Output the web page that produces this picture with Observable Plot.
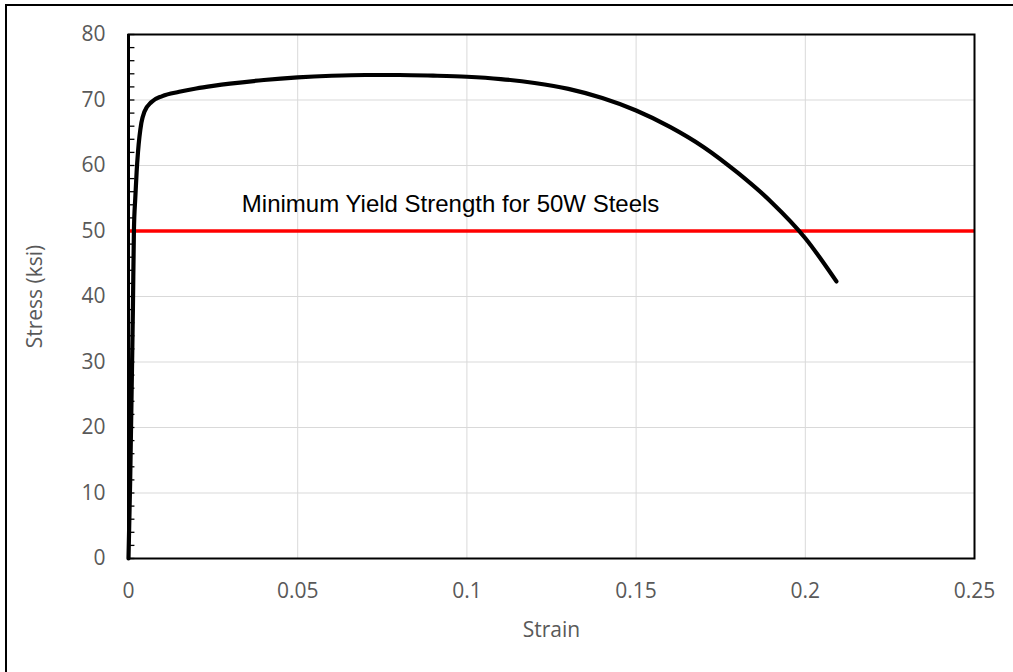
<!DOCTYPE html>
<html>
<head>
<meta charset="utf-8">
<script src="https://cdn.jsdelivr.net/npm/d3@7"></script>
<script src="https://cdn.jsdelivr.net/npm/@observablehq/plot@0.6"></script>
<style>
  html, body { margin: 0; padding: 0; background: #fff; overflow: hidden; }
  #wrap { position: relative; width: 1013px; height: 672px; overflow: hidden; }
  #border { position: absolute; left: 5px; top: 4px; width: 1100px; height: 800px; border: 2px solid #000; box-sizing: border-box; pointer-events: none; }
  #chart { position: absolute; left: 0; top: 0; }
</style>
</head>
<body>
<div id="wrap"><div id="chart"></div><div id="border"></div></div>
<script>
// Stress-strain curve
const strain = [0, 0.0005, 0.001, 0.0013, 0.0016, 0.002, 0.0024, 0.0028, 0.0038, 0.0047, 0.0068, 0.01, 0.015, 0.02, 0.025, 0.03, 0.04, 0.05, 0.06, 0.07, 0.08, 0.09, 0.1, 0.11, 0.12, 0.13, 0.14, 0.15, 0.16, 0.17, 0.18, 0.19, 0.2, 0.2092];
const stress = [0, 12, 28, 38, 50, 55, 59, 62, 66.5, 68.2, 69.7, 70.6, 71.25, 71.75, 72.15, 72.5, 73.05, 73.45, 73.7, 73.82, 73.82, 73.72, 73.55, 73.2, 72.6, 71.7, 70.3, 68.4, 65.9, 62.8, 58.9, 54.4, 48.9, 42.3];

const yieldStrength = [50];
const annotationText = ["Minimum Yield Strength for 50W Steels"];
const annotationX = [0.0335];
const annotationY = [54.1];

const xTicks = [0, 0.05, 0.1, 0.15, 0.2, 0.25];
const xTickLabels = ["0", "0.05", "0.1", "0.15", "0.2", "0.25"];
const yTicks = [0, 10, 20, 30, 40, 50, 60, 70, 80];
const yMinorTicks = d3.range(0, 81, 2);
const xGrid = [0.05, 0.1, 0.15, 0.2];
const yGrid = [10, 20, 30, 40, 50, 60, 70];

const xLabel = "Strain";
const yLabel = "Stress (ksi)";

const curve = strain.map((s, i) => ({strain: s, stress: stress[i]}));
const annotation = annotationText.map((t, i) => ({text: t, x: annotationX[i], y: annotationY[i]}));

const labelFont = "'Open Sans', sans-serif";
const grey = "#595959";

const chart = Plot.plot({
  width: 1013,
  height: 672,
  marginLeft: 128,
  marginRight: 39,
  marginTop: 34,
  marginBottom: 114,
  style: {fontFamily: labelFont, background: "transparent", overflow: "visible"},
  x: {domain: [0, 0.25]},
  y: {domain: [0, 80]},
  marks: [
    Plot.ruleX(xGrid, {stroke: "#d9d9d9", strokeWidth: 1}),
    Plot.ruleY(yGrid, {stroke: "#d9d9d9", strokeWidth: 1}),
    Plot.ruleY(yMinorTicks, {x1: 0, x2: 0.0019, stroke: "#000", strokeWidth: 1.3}),
    Plot.ruleY(yieldStrength, {stroke: "#ff0000", strokeWidth: 3.5}),
    Plot.line(curve, {x: "strain", y: "stress", stroke: "#000", strokeWidth: 4.2, curve: "monotone-x", strokeLinecap: "round", strokeLinejoin: "round"}),
    Plot.text(annotation, {x: "x", y: "y", text: "text", textAnchor: "start", fontFamily: "'Liberation Sans', Arial, sans-serif", fontSize: 24, fill: "#000"}),
    Plot.frame({stroke: "#000", strokeWidth: 2}),
    Plot.ruleX([0], {stroke: "#000", strokeWidth: 3}),
    Plot.axisX({ticks: xTicks, tickFormat: (d, i) => xTickLabels[i], tickSize: 0, tickPadding: 25, fontSize: 21, fill: grey, label: null}),
    Plot.axisY({ticks: yTicks, tickSize: 0, tickPadding: 23, fontSize: 21, fill: grey, label: null}),
    Plot.text([yLabel], {frameAnchor: "left", dx: -93, rotate: -90, text: d => d, fontSize: 21, fill: grey, textAnchor: "middle"}),
    Plot.text([xLabel], {frameAnchor: "bottom", dy: 78, text: d => d, fontSize: 21, fill: grey, textAnchor: "middle"})
  ]
});
document.getElementById("chart").appendChild(chart);
</script>
</body>
</html>
